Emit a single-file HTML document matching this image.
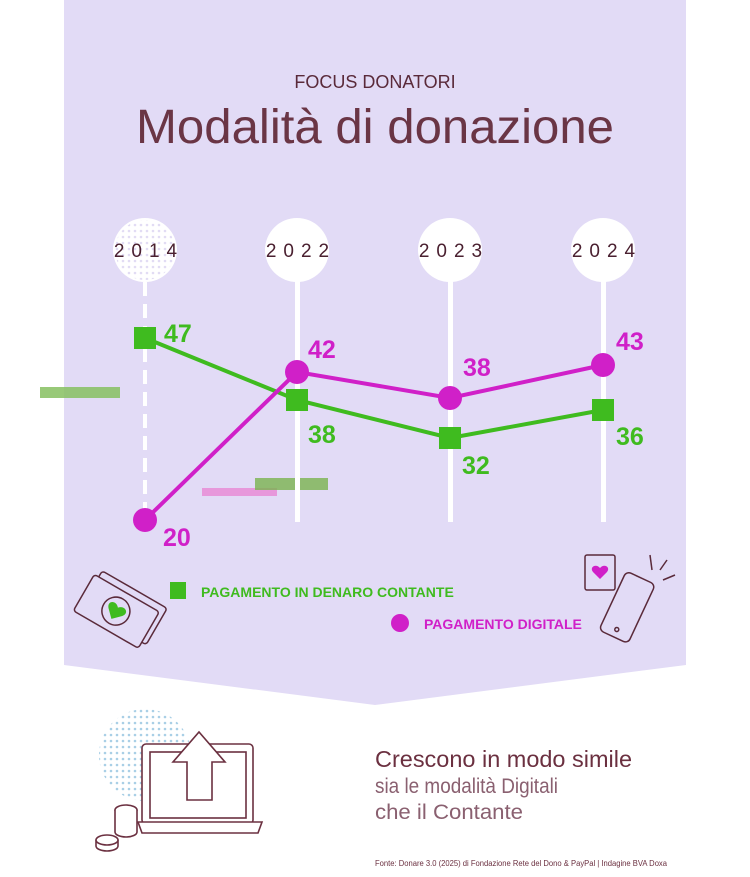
<!DOCTYPE html>
<html><head><meta charset="utf-8"><style>
body{margin:0;background:#fff;}
svg{display:block;font-family:"Liberation Sans",sans-serif;}
</style></head><body>
<svg width="750" height="877" viewBox="0 0 750 877">
<defs><pattern id="dots" width="6" height="6" patternUnits="userSpaceOnUse"><circle cx="3" cy="3" r="1.3" fill="#e2dcf4"/></pattern>
<pattern id="bdots" width="6" height="6" patternUnits="userSpaceOnUse"><circle cx="3" cy="3" r="1.3" fill="#a9cfe6"/></pattern></defs>
<rect width="750" height="877" fill="#fff"/>
<polygon points="64,0 686,0 686,665 375,705 64,665" fill="#e2dbf6"/>
<text x="375" y="88" text-anchor="middle" font-size="18" fill="#5a2a3a">FOCUS DONATORI</text>
<text x="375" y="143" text-anchor="middle" font-size="48" fill="#6a3545" textLength="478" lengthAdjust="spacingAndGlyphs">Modalità di donazione</text>
<rect x="40" y="387" width="80" height="11" fill="#86c060" opacity="0.85"/>
<rect x="202" y="488" width="75" height="8" fill="#e890d8" opacity="0.9"/>
<rect x="255" y="478" width="73" height="12" fill="#7ab34f" opacity="0.8"/>
<circle cx="145" cy="250" r="32" fill="#fff"/><circle cx="145" cy="250" r="30" fill="url(#dots)"/>
<line x1="145" y1="282" x2="145" y2="520" stroke="#fff" stroke-width="4" stroke-dasharray="14,8"/>
<g fill="#fff"><circle cx="297" cy="250" r="32"/><circle cx="450" cy="250" r="32"/><circle cx="603" cy="250" r="32"/>
<rect x="295" y="280" width="5" height="242"/><rect x="448" y="280" width="5" height="242"/><rect x="601" y="280" width="5" height="242"/></g>
<g font-size="19" fill="#4a2030" text-anchor="middle" letter-spacing="7"><text x="149" y="257">2014</text><text x="301" y="257">2022</text><text x="454" y="257">2023</text><text x="607" y="257">2024</text></g>
<polyline points="145,338 297,400 450,438 603,410" fill="none" stroke="#3fbb1f" stroke-width="4"/>
<polyline points="145,520 297,372 450,398 603,365" fill="none" stroke="#d020c8" stroke-width="4"/>
<g fill="#3fbb1f"><rect x="134" y="327" width="22" height="22"/><rect x="286" y="389" width="22" height="22"/><rect x="439" y="427" width="22" height="22"/><rect x="592" y="399" width="22" height="22"/></g>
<g fill="#d020c8"><circle cx="145" cy="520" r="12"/><circle cx="297" cy="372" r="12"/><circle cx="450" cy="398" r="12"/><circle cx="603" cy="365" r="12"/></g>
<g font-size="25" font-weight="bold" fill="#3fbb1f"><text x="164" y="342">47</text><text x="308" y="443">38</text><text x="462" y="474">32</text><text x="616" y="445">36</text></g>
<g font-size="25" font-weight="bold" fill="#d020c8"><text x="308" y="358">42</text><text x="463" y="376">38</text><text x="616" y="350">43</text><text x="163" y="546">20</text></g>
<rect x="170" y="582" width="16" height="17" fill="#3fbb1f"/>
<text x="201" y="597" font-size="14" font-weight="bold" fill="#3fbb1f">PAGAMENTO IN DENARO CONTANTE</text>
<circle cx="400" cy="623" r="9" fill="#d020c8"/>
<text x="424" y="629" font-size="14" font-weight="bold" fill="#d020c8">PAGAMENTO DIGITALE</text>
<g fill="none" stroke="#5a2a3a" stroke-width="1.5">
<g transform="rotate(30 120 610)"><rect x="85" y="585" width="75" height="42" rx="3"/><rect x="80" y="592" width="75" height="42" rx="3" fill="#e2dbf6"/><circle cx="117" cy="613" r="14"/>
<path d="M117,622 l-8,-8 c-5,-6 3,-11 8,-5 c5,-6 13,-1 8,5z" fill="#3fbb1f" stroke="none"/></g>
<rect x="585" y="555" width="30" height="35" rx="2"/>
<g transform="rotate(25 627 610)"><rect x="610" y="575" width="32" height="65" rx="5"/><circle cx="626" cy="632" r="2"/></g>
<line x1="650" y1="555" x2="652" y2="570"/><line x1="660" y1="570" x2="667" y2="560"/><line x1="663" y1="580" x2="675" y2="575"/>
</g>
<path d="M600,579 l-7,-7 c-4,-5 3,-9 7,-4 c4,-5 11,-1 7,4z" fill="#d020c8"/>
<circle cx="145" cy="755" r="46" fill="url(#bdots)"/>
<g fill="#fff" stroke="#6b3040" stroke-width="1.6">
<rect x="142" y="744" width="111" height="80" rx="4"/>
<rect x="150" y="752" width="96" height="66" fill="none"/>
<path d="M138,822 h124 l-4,11 h-116z"/>
<path d="M187,800 h25 v-38 h13 l-26,-30 l-26,30 h14z"/>
<ellipse cx="126" cy="810" rx="11" ry="5"/><path d="M115,810 v22 a11,5 0 0 0 22,0 v-22"/>
<path d="M96,840 v6 a11,5 0 0 0 22,0 v-6"/><ellipse cx="107" cy="840" rx="11" ry="5"/>
</g>
<text x="375" y="767" font-size="23" fill="#6b3040" textLength="257" lengthAdjust="spacingAndGlyphs">Crescono in modo simile</text>
<text x="375" y="793" font-size="21" fill="#8a6070" textLength="183" lengthAdjust="spacingAndGlyphs">sia le modalità Digitali</text>
<text x="375" y="819" font-size="21" fill="#8a6070" textLength="148" lengthAdjust="spacingAndGlyphs">che il Contante</text>
<text x="375" y="866" font-size="8" fill="#6b3040" textLength="292" lengthAdjust="spacingAndGlyphs">Fonte: Donare 3.0 (2025) di Fondazione Rete del Dono &amp; PayPal | Indagine BVA Doxa</text>
</svg>
</body></html>
